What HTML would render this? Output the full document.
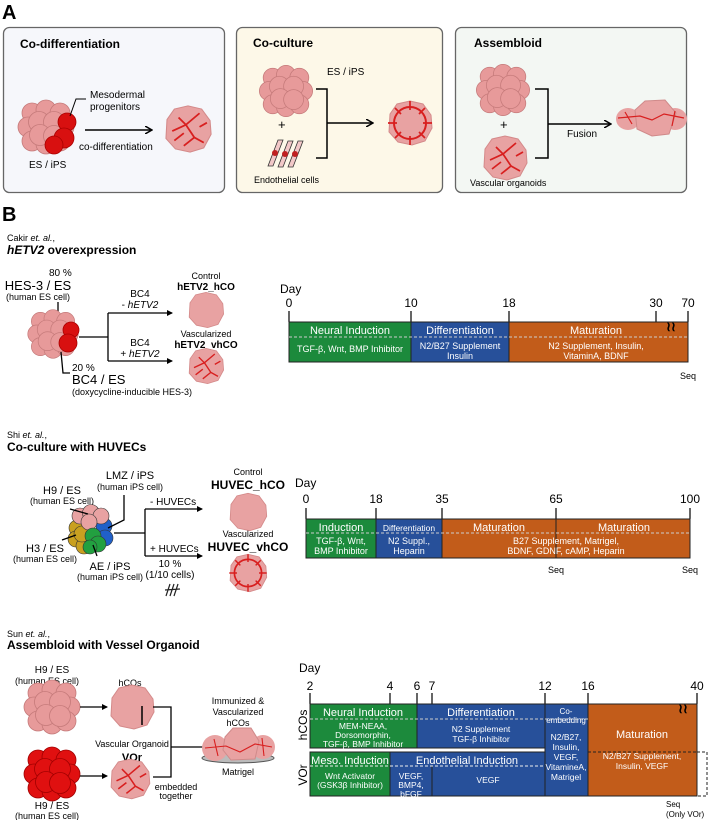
<!DOCTYPE html>
<html><head><meta charset="utf-8"><style>
html,body{margin:0;padding:0;background:#fff;}
svg{display:block;font-family:"Liberation Sans",sans-serif;}
.w{fill:#fff;}
</style></head><body>
<svg width="709" height="820" viewBox="0 0 709 820" xmlns="http://www.w3.org/2000/svg">
<defs>
<g id="cl">
<circle cx="-14" cy="-14" r="10"/><circle cx="0" cy="-17" r="10"/><circle cx="14" cy="-14" r="10"/>
<circle cx="-18" cy="0" r="10"/><circle cx="18" cy="0" r="10"/>
<circle cx="-14" cy="14" r="10"/><circle cx="0" cy="17" r="10"/><circle cx="14" cy="14" r="10"/>
<circle cx="-7" cy="-5" r="10.5"/><circle cx="8" cy="-5" r="10.5"/><circle cx="-6" cy="8" r="10.5"/><circle cx="8" cy="9" r="10.5"/>
</g>
<g id="og"><path d="M-20,-9 L-13,-19 L0,-22 L13,-19 L21,-8 L22,5 L15,18 L2,22 L-12,19 L-21,9 Z" fill="#e8a2a2" stroke="#d48a8a" stroke-width="1"/></g>
<g id="vo"><use href="#og"/><path d="M-15,2 L-2,-4 L11,-15 M-2,-4 L6,8 L15,13 M6,8 L-4,16 M-9,-11 L-2,-4 M11,-2 L18,-6 M-13,11 L-4,4" stroke="#d81f1f" stroke-width="1.7" fill="none"/></g>
<g id="ring"><use href="#og"/><circle r="16" fill="none" stroke="#d81f1f" stroke-width="2"/><path d="M0,-22 L0,-13 M15,-15 L9,-9 M22,0 L13,0 M15,15 L9,9 M0,22 L0,13 M-15,15 L-9,9 M-22,0 L-13,0 M-15,-15 L-9,-9" stroke="#d81f1f" stroke-width="1.7"/></g>
<marker id="ah" markerWidth="8" markerHeight="8" refX="6" refY="4" orient="auto" markerUnits="userSpaceOnUse"><path d="M0,0 L7,4 L0,8" fill="none" stroke="#000" stroke-width="1.5"/></marker>
<marker id="at" markerWidth="6" markerHeight="6" refX="5" refY="3" orient="auto" markerUnits="userSpaceOnUse"><path d="M0,0 L6,3 L0,6 Z" fill="#000"/></marker>
</defs>

<!-- Panel A -->
<text x="2" y="19" font-size="20" font-weight="bold">A</text>
<rect x="3.5" y="27.5" width="221" height="165" rx="6" fill="#f6f7fb" stroke="#666" stroke-width="1.3"/>
<rect x="236.5" y="27.5" width="206" height="165" rx="6" fill="#fdf8e8" stroke="#666" stroke-width="1.3"/>
<rect x="455.5" y="27.5" width="231" height="165" rx="6" fill="#f3f7f3" stroke="#666" stroke-width="1.3"/>
<text x="20" y="48" font-size="12" font-weight="bold">Co-differentiation</text>
<text x="253" y="47" font-size="12" font-weight="bold">Co-culture</text>
<text x="474" y="47" font-size="12" font-weight="bold">Assembloid</text>

<g fill="#e79a9a" stroke="#c57a7a" stroke-width="0.8"><use href="#cl" x="46" y="127"/></g>
<g fill="#d81010" stroke="#a00" stroke-width="0.8"><circle cx="67" cy="122" r="9"/><circle cx="64" cy="138" r="10"/><circle cx="54" cy="145" r="9"/></g>
<path d="M70,116 L76,99 L86,99" stroke="#000" fill="none"/>
<text x="90" y="98" font-size="10">Mesodermal</text><text x="90" y="110" font-size="10">progenitors</text>
<line x1="85" y1="130" x2="151" y2="130" stroke="#000" stroke-width="1.5" marker-end="url(#ah)"/>
<text x="79" y="150" font-size="10">co-differentiation</text>
<text x="29" y="168" font-size="10">ES / iPS</text>
<use href="#vo" transform="translate(188 129) scale(1.05)"/>

<g fill="#e79a9a" stroke="#c57a7a" stroke-width="0.8"><use href="#cl" transform="translate(286 91) scale(0.95)"/></g>
<text x="327" y="75" font-size="10">ES / iPS</text>
<text x="278" y="129" font-size="13">+</text>
<g fill="#f2c8c8" stroke="#333" stroke-width="0.8"><path d="M268,166 L278,140 L283,140 L273,166 Z"/><path d="M278,167 L288,141 L293,141 L283,167 Z"/><path d="M288,167 L298,141 L303,141 L293,167 Z"/></g>
<g fill="#c02020"><circle cx="275" cy="153" r="3"/><circle cx="285" cy="154" r="3"/><circle cx="295" cy="154" r="3"/></g>
<text x="254" y="183" font-size="9">Endothelial cells</text>
<path d="M316,89 L327,89 L327,158 L316,158 M327,123 L372,123" stroke="#000" stroke-width="1.5" fill="none" marker-end="url(#ah)"/>
<use href="#ring" x="410" y="123"/>

<g fill="#e79a9a" stroke="#c57a7a" stroke-width="0.8"><use href="#cl" transform="translate(503 90) scale(0.95)"/></g>
<text x="500" y="129" font-size="13">+</text>
<use href="#vo" x="505" y="158"/>
<text x="470" y="186" font-size="9">Vascular organoids</text>
<path d="M535,89 L548,89 L548,158 L535,158 M548,124 L610,124" stroke="#000" stroke-width="1.5" fill="none" marker-end="url(#ah)"/>
<text x="567" y="137" font-size="10">Fusion</text>
<ellipse cx="628" cy="119" rx="12" ry="11" fill="#e8a2a2"/><ellipse cx="675" cy="119" rx="12" ry="11" fill="#e8a2a2"/>
<path d="M635,110 L645,101 L665,100 L676,113 L669,134 L652,136 L637,129 Z" fill="#e8a2a2" stroke="#d08a8a"/>
<path d="M618,118 L640,116 L652,120 L664,114 L684,118 M625,112 L632,124 M675,111 L672,126" stroke="#d81f1f" stroke-width="1.2" fill="none"/>

<!-- Panel B header -->
<text x="2" y="221" font-size="20" font-weight="bold">B</text>
<text x="7" y="241" font-size="9">Cakir <tspan font-style="italic">et. al.</tspan>,</text>
<text x="7" y="254" font-size="12" font-weight="bold"><tspan font-style="italic">hETV2</tspan> overexpression</text>

<text x="49" y="276" font-size="10">80 %</text>
<text x="38" y="290" font-size="13" text-anchor="middle">HES-3 / ES</text>
<text x="38" y="300" font-size="9" text-anchor="middle">(human ES cell)</text>
<line x1="58" y1="302" x2="58" y2="318" stroke="#000" stroke-width="1.3"/>
<g fill="#e79a9a" stroke="#c57a7a" stroke-width="0.8"><use href="#cl" transform="translate(53 334) scale(0.9)"/></g>
<g fill="#d81010" stroke="#a00" stroke-width="0.8"><circle cx="71" cy="330" r="8"/><circle cx="68" cy="343" r="9"/></g>
<path d="M61,352 L63,373 L70,373" stroke="#000" stroke-width="1.3" fill="none"/>
<text x="72" y="371" font-size="10">20 %</text>
<text x="72" y="384" font-size="13">BC4 / ES</text>
<text x="72" y="395" font-size="9">(doxycycline-inducible HES-3)</text>
<path d="M79,337 L108,337 M108,313 L108,361" stroke="#000" stroke-width="1.3" fill="none"/>
<line x1="108" y1="313" x2="172" y2="313" stroke="#000" stroke-width="1.3" marker-end="url(#at)"/>
<line x1="108" y1="361" x2="172" y2="361" stroke="#000" stroke-width="1.3" marker-end="url(#at)"/>
<text x="140" y="297" font-size="10" text-anchor="middle">BC4</text>
<text x="140" y="308" font-size="10" text-anchor="middle">- <tspan font-style="italic">hETV2</tspan></text>
<text x="140" y="346" font-size="10" text-anchor="middle">BC4</text>
<text x="140" y="357" font-size="10" text-anchor="middle">+ <tspan font-style="italic">hETV2</tspan></text>
<text x="206" y="279" font-size="9" text-anchor="middle">Control</text>
<text x="206" y="290" font-size="10" font-weight="bold" text-anchor="middle">hETV2_hCO</text>
<use href="#og" transform="translate(206 310) scale(0.8)"/>
<text x="206" y="337" font-size="9" text-anchor="middle">Vascularized</text>
<text x="206" y="348" font-size="10" font-weight="bold" text-anchor="middle">hETV2_vhCO</text>
<use href="#vo" transform="translate(206 366) scale(0.8)"/>

<!-- Timeline 1 -->
<text x="280" y="293" font-size="12">Day</text>
<g font-size="12" text-anchor="middle"><text x="289" y="307">0</text><text x="411" y="307">10</text><text x="509" y="307">18</text><text x="656" y="307">30</text><text x="688" y="307">70</text></g>
<g stroke="#000" stroke-width="1.2"><line x1="289" y1="311" x2="289" y2="322"/><line x1="411" y1="311" x2="411" y2="322"/><line x1="509" y1="311" x2="509" y2="322"/><line x1="656" y1="311" x2="656" y2="322"/><line x1="688" y1="311" x2="688" y2="322"/></g>
<rect x="289" y="322" width="122" height="40" fill="#1c8a3c" stroke="#222"/>
<rect x="411" y="322" width="98" height="40" fill="#27509a" stroke="#222"/>
<rect x="509" y="322" width="179" height="40" fill="#c25c1a" stroke="#222"/>
<line x1="289" y1="337" x2="688" y2="337" stroke="#ccc" stroke-dasharray="3,2"/>
<text x="671" y="331" font-size="13" font-weight="bold" text-anchor="middle">≀≀</text>
<g class="w" text-anchor="middle">
<text x="350" y="334" font-size="11">Neural Induction</text><text x="350" y="352" font-size="9">TGF-β, Wnt, BMP Inhibitor</text>
<text x="460" y="334" font-size="11">Differentiation</text><text x="460" y="349" font-size="9">N2/B27 Supplement</text><text x="460" y="359" font-size="9">Insulin</text>
<text x="596" y="334" font-size="11">Maturation</text><text x="596" y="349" font-size="9">N2 Supplement, Insulin,</text><text x="596" y="359" font-size="9">VitaminA, BDNF</text>
</g>
<text x="680" y="379" font-size="9">Seq</text>

<!-- Section 2 -->
<text x="7" y="438" font-size="9">Shi <tspan font-style="italic">et. al.</tspan>,</text>
<text x="7" y="451" font-size="12" font-weight="bold">Co-culture with HUVECs</text>
<text x="130" y="479" font-size="11" text-anchor="middle">LMZ / iPS</text>
<text x="130" y="490" font-size="9" text-anchor="middle">(human iPS cell)</text>
<text x="62" y="494" font-size="11" text-anchor="middle">H9 / ES</text>
<text x="62" y="504" font-size="9" text-anchor="middle">(human ES cell)</text>
<text x="45" y="552" font-size="11" text-anchor="middle">H3 / ES</text>
<text x="45" y="562" font-size="9" text-anchor="middle">(human ES cell)</text>
<text x="110" y="570" font-size="11" text-anchor="middle">AE / iPS</text>
<text x="110" y="580" font-size="9" text-anchor="middle">(human iPS cell)</text>
<g stroke="#333" stroke-width="0.6">
<g fill="#c9a020"><circle cx="77" cy="528" r="8"/><circle cx="76" cy="539" r="8"/><circle cx="84" cy="546" r="8"/><circle cx="82" cy="534" r="8"/></g>
<g fill="#2060c8"><circle cx="104" cy="526" r="8"/><circle cx="105" cy="538" r="8"/></g>
<g fill="#e8a2a2"><circle cx="80" cy="516" r="8"/><circle cx="91" cy="513" r="8.5"/><circle cx="101" cy="516" r="8"/><circle cx="89" cy="522" r="8"/></g>
<g fill="#22a040"><circle cx="93" cy="536" r="8"/><circle cx="98" cy="544" r="8"/><circle cx="90" cy="547" r="7"/></g>
</g>
<g stroke="#000" stroke-width="1.3" fill="none"><path d="M70,509 L88,514"/><path d="M62,540 L76,535"/><path d="M93,545 L97,556"/><path d="M108,528 L124,520 L124,495"/></g>
<path d="M114,533 L145,533 M145,509 L145,556" stroke="#000" stroke-width="1.3"/>
<line x1="145" y1="509" x2="202" y2="509" stroke="#000" stroke-width="1.3" marker-end="url(#at)"/>
<line x1="145" y1="556" x2="202" y2="556" stroke="#000" stroke-width="1.3" marker-end="url(#at)"/>
<text x="150" y="505" font-size="10">- HUVECs</text>
<text x="150" y="552" font-size="10">+ HUVECs</text>
<text x="170" y="567" font-size="10" text-anchor="middle">10 %</text>
<text x="170" y="578" font-size="10" text-anchor="middle">(1/10 cells)</text>
<path d="M166,596 L170,584 M170,596 L174,584 M174,596 L178,584 M165,590 L180,589" stroke="#222" stroke-width="1.2"/>
<text x="248" y="475" font-size="9" text-anchor="middle">Control</text>
<text x="248" y="489" font-size="12" font-weight="bold" text-anchor="middle">HUVEC_hCO</text>
<use href="#og" transform="translate(248 512) scale(0.85)"/>
<text x="248" y="537" font-size="9" text-anchor="middle">Vascularized</text>
<text x="248" y="551" font-size="12" font-weight="bold" text-anchor="middle">HUVEC_vhCO</text>
<use href="#ring" transform="translate(248 573) scale(0.85)"/>

<!-- Timeline 2 -->
<text x="295" y="487" font-size="12">Day</text>
<g font-size="12" text-anchor="middle"><text x="306" y="503">0</text><text x="376" y="503">18</text><text x="442" y="503">35</text><text x="556" y="503">65</text><text x="690" y="503">100</text></g>
<g stroke="#000" stroke-width="1.2"><line x1="306" y1="508" x2="306" y2="519"/><line x1="376" y1="508" x2="376" y2="519"/><line x1="442" y1="508" x2="442" y2="519"/><line x1="556" y1="508" x2="556" y2="519"/><line x1="690" y1="508" x2="690" y2="519"/></g>
<rect x="306" y="519" width="70" height="39" fill="#1c8a3c" stroke="#222"/>
<rect x="376" y="519" width="66" height="39" fill="#27509a" stroke="#222"/>
<rect x="442" y="519" width="248" height="39" fill="#c25c1a" stroke="#222"/>
<line x1="556" y1="519" x2="556" y2="558" stroke="#222"/>
<line x1="306" y1="533" x2="690" y2="533" stroke="#ccc" stroke-dasharray="3,2"/>
<g class="w" text-anchor="middle">
<text x="341" y="531" font-size="11">Induction</text><text x="341" y="544" font-size="9">TGF-β, Wnt,</text><text x="341" y="554" font-size="9">BMP Inhibitor</text>
<text x="409" y="531" font-size="8.5">Differentiation</text><text x="409" y="544" font-size="9">N2 Suppl.,</text><text x="409" y="554" font-size="9">Heparin</text>
<text x="499" y="531" font-size="11">Maturation</text><text x="624" y="531" font-size="11">Maturation</text>
<text x="566" y="544" font-size="9">B27 Supplement, Matrigel,</text><text x="566" y="554" font-size="9">BDNF, GDNF, cAMP, Heparin</text>
</g>
<text x="556" y="573" font-size="9" text-anchor="middle">Seq</text>
<text x="690" y="573" font-size="9" text-anchor="middle">Seq</text>

<!-- Section 3 -->
<text x="7" y="637" font-size="9">Sun <tspan font-style="italic">et. al.</tspan>,</text>
<text x="7" y="649" font-size="12" font-weight="bold">Assembloid with Vessel Organoid</text>
<text x="52" y="673" font-size="10" text-anchor="middle">H9 / ES</text>
<text x="47" y="684" font-size="9" text-anchor="middle">(human ES cell)</text>
<g fill="#e79a9a" stroke="#c57a7a" stroke-width="0.8"><use href="#cl" x="52" y="707"/></g>
<g fill="#e01010" stroke="#a00000" stroke-width="0.8"><use href="#cl" x="52" y="774"/></g>
<text x="52" y="809" font-size="10" text-anchor="middle">H9 / ES</text>
<text x="47" y="819" font-size="9" text-anchor="middle">(human ES cell)</text>
<line x1="80" y1="707" x2="107" y2="707" stroke="#000" stroke-width="1.3" marker-end="url(#at)"/>
<line x1="80" y1="776" x2="107" y2="776" stroke="#000" stroke-width="1.3" marker-end="url(#at)"/>
<text x="130" y="686" font-size="9" text-anchor="middle">hCOs</text>
<use href="#og" x="132" y="707"/>
<line x1="142" y1="706" x2="142" y2="725" stroke="#000" stroke-width="1.5"/>
<text x="132" y="747" font-size="9" text-anchor="middle">Vascular Organoid</text>
<text x="132" y="761" font-size="11" font-weight="bold" text-anchor="middle">VOr</text>
<use href="#vo" transform="translate(130 779) scale(0.9)"/>
<path d="M153,707 L171,707 L171,777 L153,777 M171,747 L203,747" stroke="#000" stroke-width="1.3" fill="none"/>
<text x="176" y="790" font-size="9" text-anchor="middle">embedded</text>
<text x="176" y="799" font-size="9" text-anchor="middle">together</text>
<text x="238" y="704" font-size="9" text-anchor="middle">Immunized &amp;</text>
<text x="238" y="715" font-size="9" text-anchor="middle">Vascularized</text>
<text x="238" y="726" font-size="9" text-anchor="middle">hCOs</text>
<ellipse cx="238" cy="758" rx="36" ry="5" fill="#bbb" stroke="#555"/>
<circle cx="215" cy="748" r="13" fill="#e8a2a2"/><circle cx="263" cy="747" r="12" fill="#e8a2a2"/>
<path d="M225,737 L233,728 L251,728 L259,741 L255,759 L231,760 L223,750 Z" fill="#e8a2a2" stroke="#d08a8a"/>
<path d="M205,748 L226,746 L240,752 L255,744 L272,747 M214,739 L218,756 M262,738 L264,756" stroke="#d81f1f" stroke-width="1.1" fill="none"/>
<text x="238" y="775" font-size="9" text-anchor="middle">Matrigel</text>

<!-- Timeline 3 -->
<text x="299" y="672" font-size="12">Day</text>
<g font-size="12" text-anchor="middle"><text x="310" y="690">2</text><text x="390" y="690">4</text><text x="417" y="690">6</text><text x="432" y="690">7</text><text x="545" y="690">12</text><text x="588" y="690">16</text><text x="697" y="690">40</text></g>
<g stroke="#000" stroke-width="1.2"><line x1="310" y1="693" x2="310" y2="704"/><line x1="390" y1="693" x2="390" y2="704"/><line x1="417" y1="693" x2="417" y2="704"/><line x1="432" y1="693" x2="432" y2="704"/><line x1="545" y1="693" x2="545" y2="704"/><line x1="588" y1="693" x2="588" y2="704"/><line x1="697" y1="693" x2="697" y2="704"/></g>
<text x="303" y="725" font-size="12" text-anchor="middle" transform="rotate(-90 303 725)" dy="4">hCOs</text>
<text x="303" y="775" font-size="12" text-anchor="middle" transform="rotate(-90 303 775)" dy="4">VOr</text>
<rect x="310" y="704" width="107" height="44" fill="#1c8a3c" stroke="#222"/>
<rect x="417" y="704" width="128" height="44" fill="#27509a" stroke="#222"/>
<rect x="310" y="752" width="80" height="44" fill="#1c8a3c" stroke="#222"/>
<rect x="390" y="752" width="155" height="44" fill="#27509a" stroke="#222"/>
<line x1="432" y1="766" x2="432" y2="796" stroke="#222"/>
<rect x="545" y="704" width="43" height="92" fill="#27509a" stroke="#222"/>
<rect x="588" y="704" width="109" height="92" fill="#c25c1a" stroke="#222"/>
<path d="M697,752 L707,752 L707,796 L697,796" fill="none" stroke="#222" stroke-dasharray="3,2"/>
<line x1="588" y1="752" x2="697" y2="752" stroke="#222" stroke-dasharray="3,2"/>
<line x1="310" y1="719" x2="588" y2="719" stroke="#ccc" stroke-dasharray="3,2"/>
<line x1="310" y1="766" x2="545" y2="766" stroke="#eee" stroke-dasharray="3,2"/>
<text x="683" y="713" font-size="13" font-weight="bold" text-anchor="middle">≀≀</text>
<g class="w" text-anchor="middle">
<text x="363" y="716" font-size="11">Neural Induction</text>
<text x="363" y="729" font-size="8.5">MEM-NEAA,</text><text x="363" y="738" font-size="8.5">Dorsomorphin,</text><text x="363" y="747" font-size="8.5">TGF-β, BMP Inhibitor</text>
<text x="481" y="716" font-size="11">Differentiation</text>
<text x="481" y="732" font-size="8.5">N2 Supplement</text><text x="481" y="742" font-size="8.5">TGF-β Inhibitor</text>
<text x="566" y="714" font-size="8">Co-</text><text x="566" y="723" font-size="8">embedding</text>
<text x="566" y="740" font-size="8.5">N2/B27,</text><text x="566" y="750" font-size="8.5">Insulin,</text><text x="566" y="760" font-size="8.5">VEGF,</text><text x="566" y="770" font-size="8.5">VitamineA,</text><text x="566" y="780" font-size="8.5">Matrigel</text>
<text x="642" y="738" font-size="11">Maturation</text>
<text x="642" y="759" font-size="8.5">N2/B27 Supplement,</text><text x="642" y="769" font-size="8.5">Insulin, VEGF</text>
<text x="350" y="764" font-size="11">Meso. Induction</text>
<text x="350" y="779" font-size="8.5">Wnt Activator</text><text x="350" y="788" font-size="8.5">(GSK3β Inhibitor)</text>
<text x="467" y="764" font-size="11">Endothelial Induction</text>
<text x="411" y="779" font-size="8.5">VEGF,</text><text x="411" y="788" font-size="8.5">BMP4,</text><text x="411" y="797" font-size="8.5">bFGF</text>
<text x="488" y="783" font-size="8.5">VEGF</text>
</g>
<text x="666" y="807" font-size="8">Seq</text>
<text x="666" y="817" font-size="8">(Only VOr)</text>
</svg>
</body></html>
